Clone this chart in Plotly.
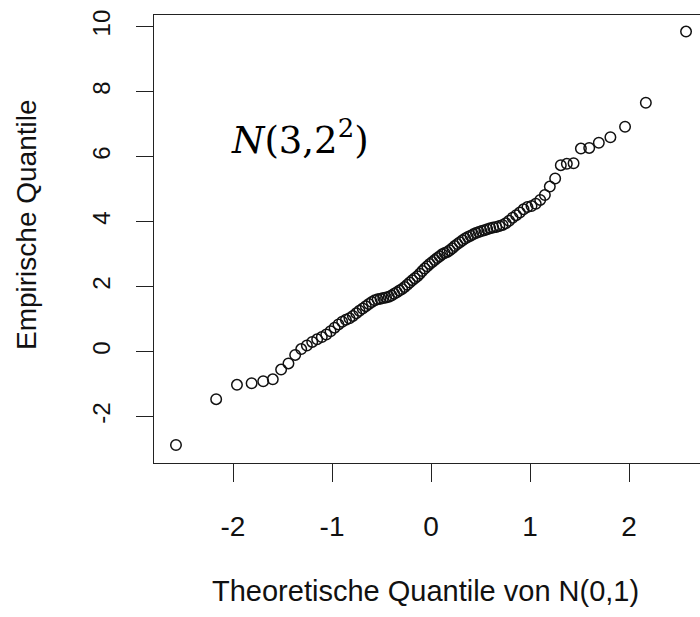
import plotly.graph_objects as go

# theoretical normal quantiles (n = 100)
theo_q = [-2.576, -2.170, -1.960, -1.812, -1.695, -1.598, -1.514, -1.440, -1.372, -1.311,
          -1.254, -1.200, -1.150, -1.103, -1.058, -1.015, -0.974, -0.935, -0.897, -0.860,
          -0.824, -0.789, -0.755, -0.723, -0.690, -0.659, -0.628, -0.598, -0.568, -0.539,
          -0.510, -0.482, -0.454, -0.426, -0.399, -0.372, -0.345, -0.319, -0.292, -0.266,
          -0.240, -0.215, -0.189, -0.164, -0.138, -0.113, -0.088, -0.063, -0.038, -0.013,
          0.013, 0.038, 0.063, 0.088, 0.113, 0.138, 0.164, 0.189, 0.215, 0.240,
          0.266, 0.292, 0.319, 0.345, 0.372, 0.399, 0.426, 0.454, 0.482, 0.510,
          0.539, 0.568, 0.598, 0.628, 0.659, 0.690, 0.723, 0.755, 0.789, 0.824,
          0.860, 0.897, 0.935, 0.974, 1.015, 1.058, 1.103, 1.150, 1.200, 1.254,
          1.311, 1.372, 1.440, 1.514, 1.598, 1.695, 1.812, 1.960, 2.170, 2.576]

emp_q = [-2.87, -1.46, -1.02, -0.97, -0.91, -0.85, -0.55, -0.36, -0.10, 0.08,
         0.19, 0.30, 0.38, 0.45, 0.53, 0.63, 0.74, 0.84, 0.92, 0.98,
         1.03, 1.10, 1.18, 1.26, 1.33, 1.40, 1.47, 1.53, 1.58, 1.61,
         1.63, 1.65, 1.67, 1.69, 1.73, 1.78, 1.83, 1.88, 1.93, 1.99,
         2.06, 2.13, 2.20, 2.26, 2.32, 2.40, 2.48, 2.56, 2.63, 2.70,
         2.76, 2.82, 2.88, 2.94, 3.00, 3.04, 3.07, 3.12, 3.18, 3.25,
         3.31, 3.37, 3.43, 3.48, 3.53, 3.57, 3.61, 3.65, 3.68, 3.71,
         3.74, 3.77, 3.80, 3.82, 3.84, 3.87, 3.90, 3.95, 4.03, 4.12,
         4.20, 4.28, 4.38, 4.45, 4.48, 4.55, 4.67, 4.82, 5.08, 5.33,
         5.74, 5.78, 5.80, 6.25, 6.27, 6.43, 6.60, 6.92, 7.66, 9.85]

x_ticks = [-2, -1, 0, 1, 2]
x_tick_labels = ["-2", "-1", "0", "1", "2"]
y_ticks = [-2, 0, 2, 4, 6, 8, 10]
y_tick_labels = ["-2", "0", "2", "4", "6", "8", "10"]

x_title = "Theoretische Quantile von N(0,1)"
y_title = "Empirische Quantile"
label = "<i>N</i>(3,2<sup>2</sup>)"

fig = go.Figure()
fig.add_trace(go.Scatter(
    x=theo_q, y=emp_q, mode="markers",
    marker=dict(symbol="circle-open", size=10.5, color="#111111", line=dict(width=1.5)),
    showlegend=False, hoverinfo="skip",
))

axis_font = "Liberation Sans, Arial, sans-serif"
fig.update_layout(
    width=700, height=617,
    margin=dict(l=154, r=0, t=15, b=154),
    paper_bgcolor="white", plot_bgcolor="white",
    xaxis=dict(range=[-2.798, 2.717], tickvals=x_ticks, ticktext=x_tick_labels,
               ticks="outside", ticklen=18,
               tickwidth=1.4, tickcolor="#222", showline=True, linecolor="#222",
               linewidth=1.4, mirror=True, showgrid=False, zeroline=False,
               tickfont=dict(family=axis_font, size=28, color="#111"),
               ticklabelstandoff=20),
    yaxis=dict(range=[-3.425, 10.36], tickvals=y_ticks, ticktext=y_tick_labels,
               ticks="outside", ticklen=17,
               tickwidth=1.4, tickcolor="#222", showline=True, linecolor="#222",
               linewidth=1.4, mirror=False, showgrid=False, zeroline=False,
               tickangle=-90,
               tickfont=dict(family=axis_font, size=24, color="#111"),
               ticklabelstandoff=16),
    annotations=[
        dict(text=x_title, xref="paper", yref="paper", x=(425 - 154) / 546, y=(463 - 591) / 448,
             xanchor="center", yanchor="middle", showarrow=False,
             font=dict(family=axis_font, size=29, color="#111")),
        dict(text=y_title, xref="paper", yref="paper", x=(26 - 154) / 546, y=(463 - 225) / 448,
             xanchor="center", yanchor="middle", showarrow=False, textangle=-90,
             font=dict(family=axis_font, size=28, color="#111")),
        dict(text=label, xref="paper", yref="paper", x=(300 - 154) / 546, y=(463 - 137) / 448,
             xanchor="center", yanchor="middle", showarrow=False,
             font=dict(family="DejaVu Serif, serif", size=37, color="#000")),
    ],
)

fig.write_html("out.html", config={"displayModeBar": False},
               post_script="document.body.style.margin='0';document.body.style.overflow='hidden';")
